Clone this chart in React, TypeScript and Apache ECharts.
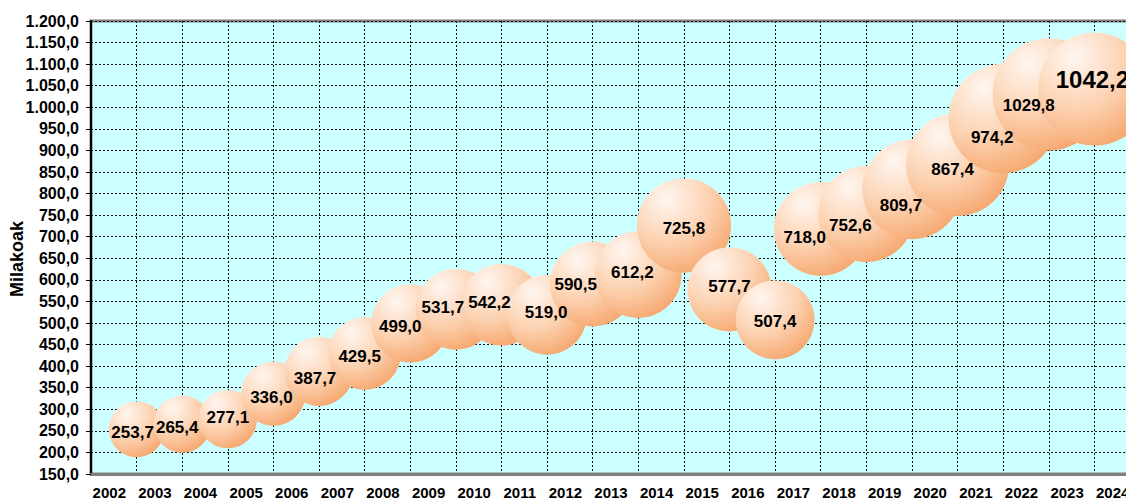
import React, { useEffect, useRef } from "react";
import * as echarts from "echarts";

const years = [
  "2002", "2003", "2004", "2005", "2006", "2007", "2008", "2009", "2010", "2011", "2012", "2013",
  "2014", "2015", "2016", "2017", "2018", "2019", "2020", "2021", "2022", "2023", "2024",
];

const values = [
  253.7, 265.4, 277.1, 336.0, 387.7, 429.5, 499.0, 531.7, 542.2, 519.0, 590.5, 612.2,
  725.8, 577.7, 507.4, 718.0, 752.6, 809.7, 867.4, 974.2, 1029.8, 1042.2,
];

const yMin = 150;
const yMax = 1200;
const yStep = 50;
const axisTitle = "Milakoak";

// label nudges (styling only)
const labelShift: [number, number][] = [
  [-4, 3], [-5, 3], [0, -2], [-2, 4], [-4, 7], [-5, 3], [-10, 3], [-13, -2], [-12, -2], [-1, -2],
  [-17, 1], [-6, -2], [0, 3], [0, -3], [0, 2], [-16, 9], [-16, 11], [-11, 16], [-5, 5], [-11, 19],
  [-20, 11], [-2, -10],
];

const FONT = "Arial, 'Liberation Sans', sans-serif";

function fmt(v: number): string {
  const [intPart, dec] = v.toFixed(1).split(".");
  const withDots = intPart.replace(/\B(?=(\d{3})+(?!\d))/g, ".");
  return withDots + "," + dec;
}

function fmtLabel(v: number): string {
  return v.toFixed(1).replace(".", ",");
}

export default function App() {
  const ref = useRef<HTMLDivElement>(null);
  useEffect(() => {
    if (!ref.current) return;
    const chart = echarts.init(ref.current, undefined, { renderer: "svg" });
    const bubbleColor = {
      type: "radial",
      x: 0.32,
      y: 0.22,
      r: 0.95,
      colorStops: [
        { offset: 0, color: "#fff6f0" },
        { offset: 0.5, color: "#fcd0ae" },
        { offset: 1, color: "#f49a5a" },
      ],
    };
    const data = values.map((v, i) => ({
      value: [i + 1, v],
      label: {
        offset: labelShift[i],
        fontSize: i === values.length - 1 ? 24 : 17,
      },
    }));
    chart.setOption({
      animation: false,
      backgroundColor: "#ffffff",
      grid: {
        left: 91,
        width: 1049,
        top: 21,
        height: 453,
        outerBoundsMode: "none",
        containLabel: false,
        show: true,
        backgroundColor: "#ccffff",
        borderColor: "#808080",
        borderWidth: 3,
      },
      xAxis: [
        {
          type: "value",
          min: 0,
          max: years.length,
          interval: 1,
          axisLine: { show: true, onZero: false, lineStyle: { color: "#808080", width: 3 } },
          axisTick: { show: false },
          axisLabel: { show: false },
          splitLine: { show: true, lineStyle: { color: "#111", width: 1, type: [2, 2] } },
        },
        {
          type: "category",
          data: years,
          position: "bottom",
          boundaryGap: true,
          axisLine: { show: false },
          axisTick: { show: false },
          splitLine: { show: false },
          axisLabel: {
            interval: 0,
            margin: 11,
            color: "#000",
            fontWeight: "bold",
            fontSize: 15,
            lineHeight: 15,
            fontFamily: FONT,
            padding: [0, 9, 0, 0],
          },
        },
      ],
      yAxis: {
        type: "value",
        min: yMin,
        max: yMax,
        interval: yStep,
        axisLine: { show: true, onZero: false, lineStyle: { color: "#000", width: 2 } },
        axisTick: { show: true, length: 5, lineStyle: { color: "#000", width: 1 } },
        axisLabel: {
          margin: 12,
          color: "#000",
          fontWeight: "bold",
          fontSize: 16,
          fontFamily: FONT,
          formatter: (v: number) => fmt(v),
        },
        splitLine: { show: true, lineStyle: { color: "#111", width: 1, type: [2, 2] } },
      },
      graphic: [
        {
          type: "text",
          x: 17,
          y: 259,
          rotation: Math.PI / 2,
          style: {
            text: axisTitle,
            fill: "#000",
            font: `bold 18px ${FONT}`,
            textAlign: "center",
            textVerticalAlign: "middle",
          },
        },
      ],
      series: [
        {
          type: "scatter",
          xAxisIndex: 0,
          data,
          symbol: "circle",
          symbolSize: (val: number[]) => 3.5 * Math.sqrt(val[1]),
          itemStyle: { color: bubbleColor, opacity: 1 },
          label: {
            show: true,
            position: "inside",
            color: "#000",
            fontWeight: "bold",
            fontFamily: FONT,
            formatter: (p: any) => fmtLabel(p.value[1]),
          },
          emphasis: { disabled: true },
        },
      ],
    });
    return () => chart.dispose();
  }, []);
  return (
    <div
      ref={ref}
      style={{ position: "fixed", left: 0, top: 0, width: 1126, height: 500 }}
    />
  );
}
